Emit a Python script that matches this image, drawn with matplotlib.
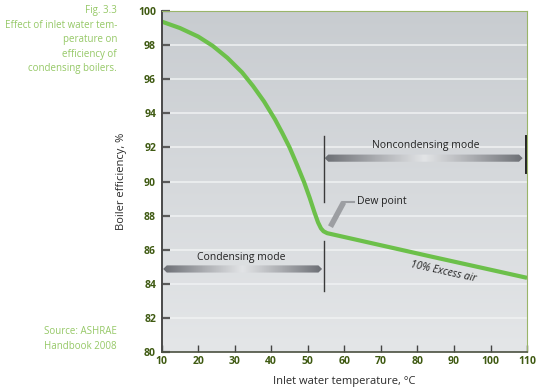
#!/usr/bin/env python3

import numpy as np
import matplotlib
matplotlib.use("Agg")
import matplotlib.pyplot as plt
from matplotlib.patches import Polygon
from matplotlib.colors import LinearSegmentedColormap

# curve
temps = [10, 15, 20, 24, 28, 32, 35, 38, 41, 43, 45, 47, 49, 50.5, 51.8, 52.8,
         53.6, 54.3, 55.3, 83.3, 110]
effs = [99.38, 99.0, 98.5, 97.95, 97.25, 96.4, 95.6, 94.7, 93.65, 92.85, 92.0,
        91.0, 89.95, 89.05, 88.2, 87.6, 87.25, 87.08, 86.97, 85.62, 84.35]

yticks = [80, 82, 84, 86, 88, 90, 92, 94, 96, 98, 100]
xticks = [10, 20, 30, 40, 50, 60, 70, 80, 90, 100, 110]

dew_point = 54.5
x_min, x_max = 10, 110

green = "#6cc04a"
tick_green = "#3f5a12"
note_green = "#95c866"


def mode_arrow(ax, x0, x1, y):
    half = 0.21
    head = 1.0
    pts = [(x0, y), (x0 + head, y + half), (x1 - head, y + half),
           (x1, y), (x1 - head, y - half), (x0 + head, y - half)]
    poly = Polygon(pts, closed=True, facecolor="none", edgecolor="none")
    ax.add_patch(poly)
    cmap = LinearSegmentedColormap.from_list("arr", ["#6c6f74", "#a9abaf", "#e2e4e6"])
    grad = 1 - np.abs(np.linspace(-1, 1, 256))[None, :]
    im = ax.imshow(grad, extent=[x0, x1, y - half, y + half], aspect="auto",
                   cmap=cmap, zorder=3, interpolation="bicubic")
    im.set_clip_path(poly)


def main():
    f, ax = plt.subplots(figsize=(5.4, 3.9), dpi=100)
    f.subplots_adjust(left=0.2994, right=0.976, bottom=0.0974, top=0.9718)

    # background gradient
    bg = np.linspace(0, 1, 256)[:, None]
    bg_cmap = LinearSegmentedColormap.from_list("bg", ["#e4e6e8", "#c8ccd0"])
    ax.imshow(bg, extent=[x_min, x_max, 80, 100], aspect="auto", cmap=bg_cmap,
              origin="lower", zorder=0)

    ax.set_xlim(x_min, x_max)
    ax.set_ylim(80, 100)
    for yy in yticks[1:-1]:
        ax.axhline(yy, color="#f0f2f3", linewidth=1.1, zorder=1)

    ax.plot(temps, effs, color=green, linewidth=3.0, solid_capstyle="butt",
            solid_joinstyle="round", zorder=4)

    # mode boundaries
    ax.plot([dew_point, dew_point], [88.8, 92.65], color="#3a3a3a", linewidth=1.0, zorder=3)
    ax.plot([dew_point, dew_point], [83.55, 86.5], color="#3a3a3a", linewidth=1.0, zorder=3)
    ax.plot([x_max - 0.15, x_max - 0.15], [90.5, 92.65], color="#222222", linewidth=1.4, zorder=5)

    mode_arrow(ax, 54.6, 108.8, 91.37)
    mode_arrow(ax, 10.4, 53.9, 84.87)

    ax.text(82.4, 92.13, "Noncondensing mode", ha="center", va="center",
            fontsize=7.5, family="Open Sans", color="#222222", zorder=5)
    ax.text(31.9, 85.55, "Condensing mode", ha="center", va="center",
            fontsize=7.5, family="Open Sans", color="#222222", zorder=5)

    # dew point pointer
    ax.plot([56.2, 59.8], [87.35, 88.78], color="#9c9ea2", linewidth=4.0,
            solid_capstyle="butt", zorder=3)
    ax.plot([59.6, 62.6], [88.8, 88.8], color="#9c9ea2", linewidth=1.5, zorder=3)
    ax.text(63.4, 88.8, "Dew point", ha="left", va="center",
            fontsize=7.5, family="Open Sans", color="#222222", zorder=5)

    ax.text(87.2, 84.68, "10% Excess air", ha="center", va="center", rotation=-12.5,
            rotation_mode="anchor", fontsize=7.5, family="Open Sans", style="italic",
            color="#222222", zorder=5)

    ax.set_yticks(yticks)
    ax.set_xticks(xticks)
    ax.tick_params(axis="y", direction="in", length=6, width=1.6, color="#5a5a5a",
                   labelsize=7.5, labelcolor=tick_green, pad=4)
    ax.tick_params(axis="x", direction="in", length=5, width=1.0, color="#444444",
                   labelsize=7.5, labelcolor=tick_green, pad=3)
    for lab in ax.get_xticklabels() + ax.get_yticklabels():
        lab.set_fontweight("bold")
        lab.set_family("Open Sans")

    ax.spines["left"].set_color("#4a4a4a")
    ax.spines["left"].set_linewidth(1.4)
    ax.spines["bottom"].set_color("#4a5040")
    ax.spines["bottom"].set_linewidth(1.2)
    ax.spines["top"].set_color("#9ab56a")
    ax.spines["right"].set_color("#9ab56a")
    for s in ax.spines.values():
        s.set_zorder(6)

    ax.set_xlabel("Inlet water temperature, °C", fontsize=8, family="Open Sans",
                  color="#2a2a2a", labelpad=6)
    ax.set_ylabel("Boiler efficiency, %", fontsize=8, family="Open Sans",
                  color="#2a2a2a", labelpad=8)

    note = "Fig. 3.3\nEffect of inlet water tem-\nperature on\nefficiency of\ncondensing boilers."
    f.text(117 / 540, 1 - 5 / 390, note, ha="right", va="top", fontsize=7,
           family="Open Sans", color=note_green, linespacing=1.45)
    f.text(117 / 540, 1 - 326 / 390, "Source: ASHRAE\nHandbook 2008", ha="right", va="top",
           fontsize=7, family="Open Sans", color=note_green, linespacing=1.45)

    f.savefig("out.png", dpi=100)


if __name__ == "__main__":
    main()
